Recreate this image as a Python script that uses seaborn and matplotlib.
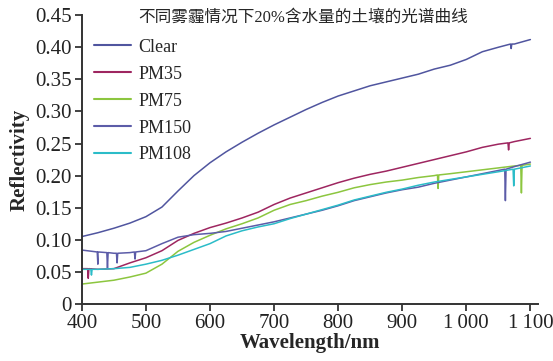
import numpy as np
import pandas as pd
import matplotlib
matplotlib.use("Agg")
import matplotlib.pyplot as plt
import seaborn as sns

# ---- data ----
wavelength = [400, 425, 450, 475, 500, 525, 550, 575, 600, 625, 650, 675, 700,
              725, 750, 775, 800, 825, 850, 875, 900, 925, 950, 975, 1000,
              1025, 1050, 1075, 1100]
clear = [0.105, 0.111, 0.118, 0.126, 0.136, 0.151, 0.176, 0.200, 0.220, 0.237,
         0.252, 0.266, 0.279, 0.291, 0.303, 0.314, 0.324, 0.332, 0.340, 0.346,
         0.352, 0.358, 0.366, 0.372, 0.381, 0.393, 0.400, 0.405, 0.412]
pm35 = [0.055, 0.054, 0.055, 0.064, 0.072, 0.083, 0.099, 0.110, 0.119, 0.126,
        0.134, 0.143, 0.155, 0.165, 0.173, 0.181, 0.189, 0.196, 0.202, 0.207,
        0.213, 0.219, 0.225, 0.231, 0.237, 0.244, 0.249, 0.253, 0.258]
pm75 = [0.031, 0.034, 0.037, 0.042, 0.048, 0.062, 0.082, 0.096, 0.107, 0.117,
        0.125, 0.134, 0.146, 0.155, 0.161, 0.168, 0.174, 0.181, 0.186, 0.190,
        0.193, 0.197, 0.200, 0.203, 0.206, 0.209, 0.212, 0.215, 0.218]
pm150 = [0.084, 0.081, 0.079, 0.080, 0.083, 0.094, 0.104, 0.108, 0.110, 0.113,
         0.118, 0.123, 0.128, 0.134, 0.140, 0.146, 0.153, 0.161, 0.167, 0.173,
         0.178, 0.182, 0.188, 0.193, 0.198, 0.203, 0.208, 0.214, 0.221]
pm108 = [0.054, 0.054, 0.055, 0.057, 0.062, 0.068, 0.076, 0.085, 0.094, 0.106,
         0.114, 0.120, 0.125, 0.133, 0.140, 0.147, 0.154, 0.162, 0.168, 0.174,
         0.179, 0.185, 0.190, 0.194, 0.198, 0.202, 0.206, 0.210, 0.215]

# narrow dips visible in the reference: series, wavelength, dip value, local level
spike_series = ["PM150", "PM150", "PM150", "PM150", "PM150", "PM108", "PM108",
                "PM75", "PM75", "PM35", "PM35", "Clear"]
spike_wl = [425, 440, 455, 483, 1061, 415, 1074, 956, 1086, 410, 1066, 1070]
spike_val = [0.062, 0.056, 0.064, 0.070, 0.161, 0.045, 0.184, 0.180, 0.173,
             0.040, 0.240, 0.398]
spike_base = [0.081, 0.080, 0.079, 0.081, 0.210, 0.054, 0.210, 0.201, 0.216,
              0.055, 0.251, 0.405]

series_names = ["Clear", "PM35", "PM75", "PM150", "PM108"]
series_colors = ["#50559f", "#9e2660", "#8cc63f", "#5c5ca8", "#2bbcc8"]
title_text = "不同雾霾情况下20%含水量的土壤的光谱曲线"
x_ticks = [400, 500, 600, 700, 800, 900, 1000, 1100]
x_tick_labels = ["400", "500", "600", "700", "800", "900", "1\u2009000", "1\u2009100"]
y_ticks = [0, 0.05, 0.10, 0.15, 0.20, 0.25, 0.30, 0.35, 0.40, 0.45]
y_tick_labels = ["0", "0.05", "0.10", "0.15", "0.20", "0.25", "0.30", "0.35", "0.40", "0.45"]

df = pd.DataFrame({"wavelength": wavelength, "Clear": clear, "PM35": pm35,
                   "PM75": pm75, "PM150": pm150, "PM108": pm108})
long = df.melt(id_vars="wavelength", var_name="series", value_name="refl")
rows = []
for s, w, v, b in zip(spike_series, spike_wl, spike_val, spike_base):
    rows += [(w - 1, s, b), (w, s, v), (w + 1, s, b)]
long = pd.concat([long, pd.DataFrame(rows, columns=["wavelength", "series", "refl"])],
                 ignore_index=True)

sns.set_theme(style="ticks")
plt.rcParams["font.family"] = ["Liberation Serif", "DejaVu Serif"]

fig = plt.figure(figsize=(5.53, 3.61), dpi=100)
ax = fig.add_axes([0.148, 0.158, 0.825, 0.800])

sns.lineplot(data=long, x="wavelength", y="refl", hue="series",
             hue_order=series_names, palette=series_colors, linewidth=1.1,
             ax=ax, legend=True, estimator=None, sort=True)

ax.set_xlim(400, 1112)
ax.set_ylim(0, 0.45)
ax.set_xticks(x_ticks)
ax.set_xticklabels(x_tick_labels, fontsize=15)
ax.set_yticks(y_ticks)
ax.set_yticklabels(y_tick_labels, fontsize=15)
ax.tick_params(axis="both", direction="out", length=5, width=1.2, pad=2, colors="#222222")
for s in ["top", "right"]:
    ax.spines[s].set_visible(False)
for s in ["left", "bottom"]:
    ax.spines[s].set_linewidth(1.4)
    ax.spines[s].set_color("#333333")

ax.set_xlabel("Wavelength/nm", fontsize=15, fontweight="bold", labelpad=0)
ax.set_ylabel("Reflectivity", fontsize=15, fontweight="bold", labelpad=4)

ax.text(0.124, 0.99, title_text, transform=ax.transAxes, fontsize=12,
        va="center", ha="left", family=["Liberation Serif", "Noto Sans CJK SC"])

leg = ax.legend(loc="upper left", bbox_to_anchor=(0.0, 0.962), frameon=False,
                fontsize=13, handlelength=2.0, handletextpad=0.45,
                labelspacing=0.55, borderaxespad=0.3)
for h in leg.get_lines():
    h.set_linewidth(1.5)

fig.savefig("out.png", dpi=100)
